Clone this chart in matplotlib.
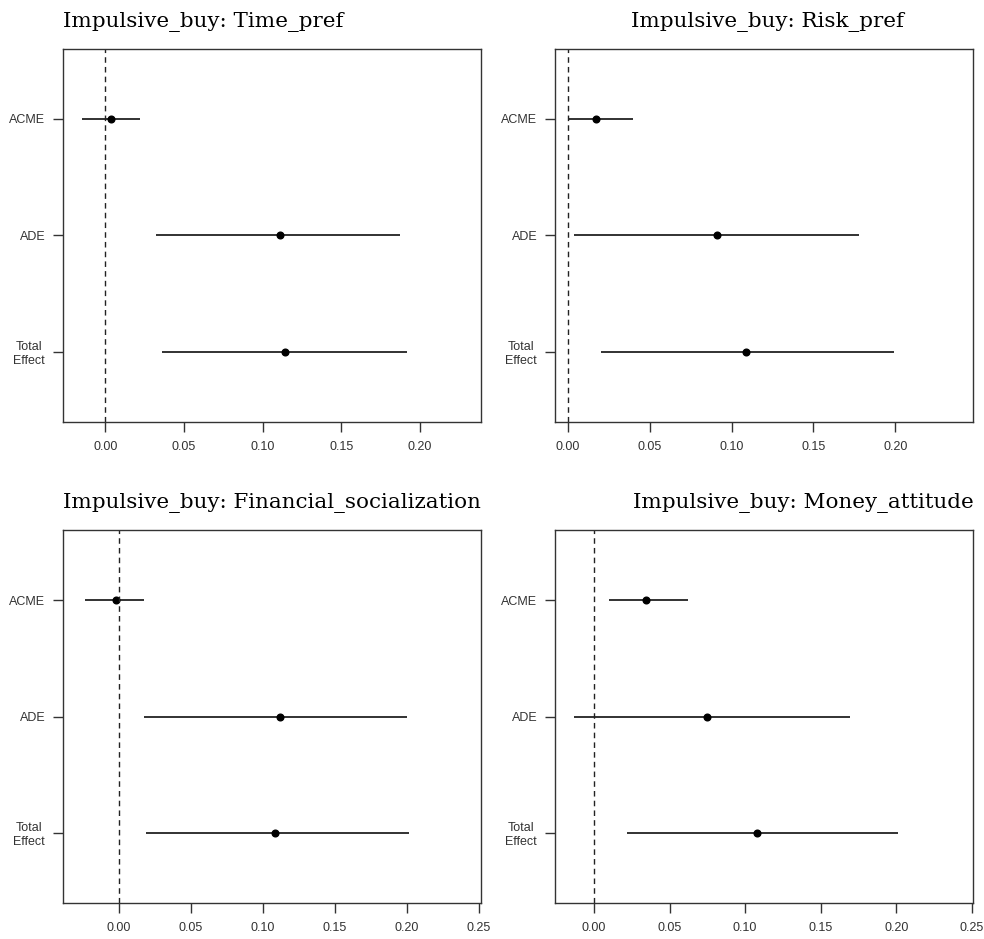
import matplotlib
matplotlib.use("Agg")
import matplotlib.pyplot as plt

# effect labels (top to bottom)
effects = ["ACME", "ADE", "Total\nEffect"]

titles = ["Impulsive_buy: Time_pref", "Impulsive_buy: Risk_pref",
          "Impulsive_buy: Financial_socialization", "Impulsive_buy: Money_attitude"]

# point estimates and 95% intervals for ACME, ADE, Total Effect
time_est = [0.0036, 0.111, 0.1144]
time_lo = [-0.0146, 0.0324, 0.036]
time_hi = [0.0222, 0.1872, 0.1915]

risk_est = [0.0175, 0.0913, 0.109]
risk_lo = [0.001, 0.004, 0.0205]
risk_hi = [0.040, 0.1777, 0.199]

fin_est = [-0.0019, 0.112, 0.1088]
fin_lo = [-0.0236, 0.0172, 0.0188]
fin_hi = [0.0176, 0.2005, 0.2015]

money_est = [0.0342, 0.0745, 0.108]
money_lo = [0.0097, -0.013, 0.0218]
money_hi = [0.0622, 0.1695, 0.2008]

ticks_top = [0.0, 0.05, 0.10, 0.15, 0.20]
ticks_bottom = [0.0, 0.05, 0.10, 0.15, 0.20, 0.25]

W, H = 984, 939
fig = plt.figure(figsize=(W / 100, H / 100), dpi=100)

panels = [
    # frame box in px (left, top, right, bottom), data, xlim, ticks, title alignment
    ((63.3, 49, 481, 421.7), (time_est, time_lo, time_hi), (-0.0267, 0.2387), ticks_top, ("left", 63)),
    ((555.3, 49, 973, 421.7), (risk_est, risk_lo, risk_hi), (-0.0076, 0.2474), ticks_top, ("center", 767)),
    ((63.3, 530.3, 481, 902.7), (fin_est, fin_lo, fin_hi), (-0.0387, 0.2517), ticks_bottom, ("left", 63)),
    ((555.3, 530.3, 973, 902.7), (money_est, money_lo, money_hi), (-0.0256, 0.2507), ticks_bottom, ("right", 974)),
]

for ((l, t, r, b), (est, lo, hi), xlim, ticks, (ha, tx)), title in zip(panels, titles):
    ax = fig.add_axes([l / W, 1 - b / H, (r - l) / W, (b - t) / H])
    ypos = [1, 2, 3]
    for y, e, a, c in zip(ypos, est, lo, hi):
        ax.plot([a, c], [y, y], color="#222222", lw=1.3, solid_capstyle="butt")
        ax.plot(e, y, "o", color="black", ms=4.8)
    ax.axvline(0, color="#222222", lw=1.0, ls=(0, (4, 3)))
    ax.set_xlim(*xlim)
    ax.set_ylim(3.6, 0.4)
    ax.set_xticks(ticks)
    ax.set_xticklabels([f"{v:.2f}" for v in ticks], family="Liberation Sans")
    ax.set_yticks(ypos)
    ax.set_yticklabels(effects, multialignment="center", family="Liberation Sans")
    ax.tick_params(axis="both", length=7, width=1, color="#333333", labelsize=9,
                   labelcolor="#333333", direction="out")
    ax.tick_params(axis="x", pad=7)
    ax.tick_params(axis="y", pad=6)
    for s in ax.spines.values():
        s.set_color("#333333")
        s.set_linewidth(1.0)
    fig.text(tx / W, 1 - (t - 22) / H, title, ha=ha, va="baseline",
             family="DejaVu Serif", fontsize=15.4, color="black")

fig.savefig("out.png", dpi=100, facecolor="white")
